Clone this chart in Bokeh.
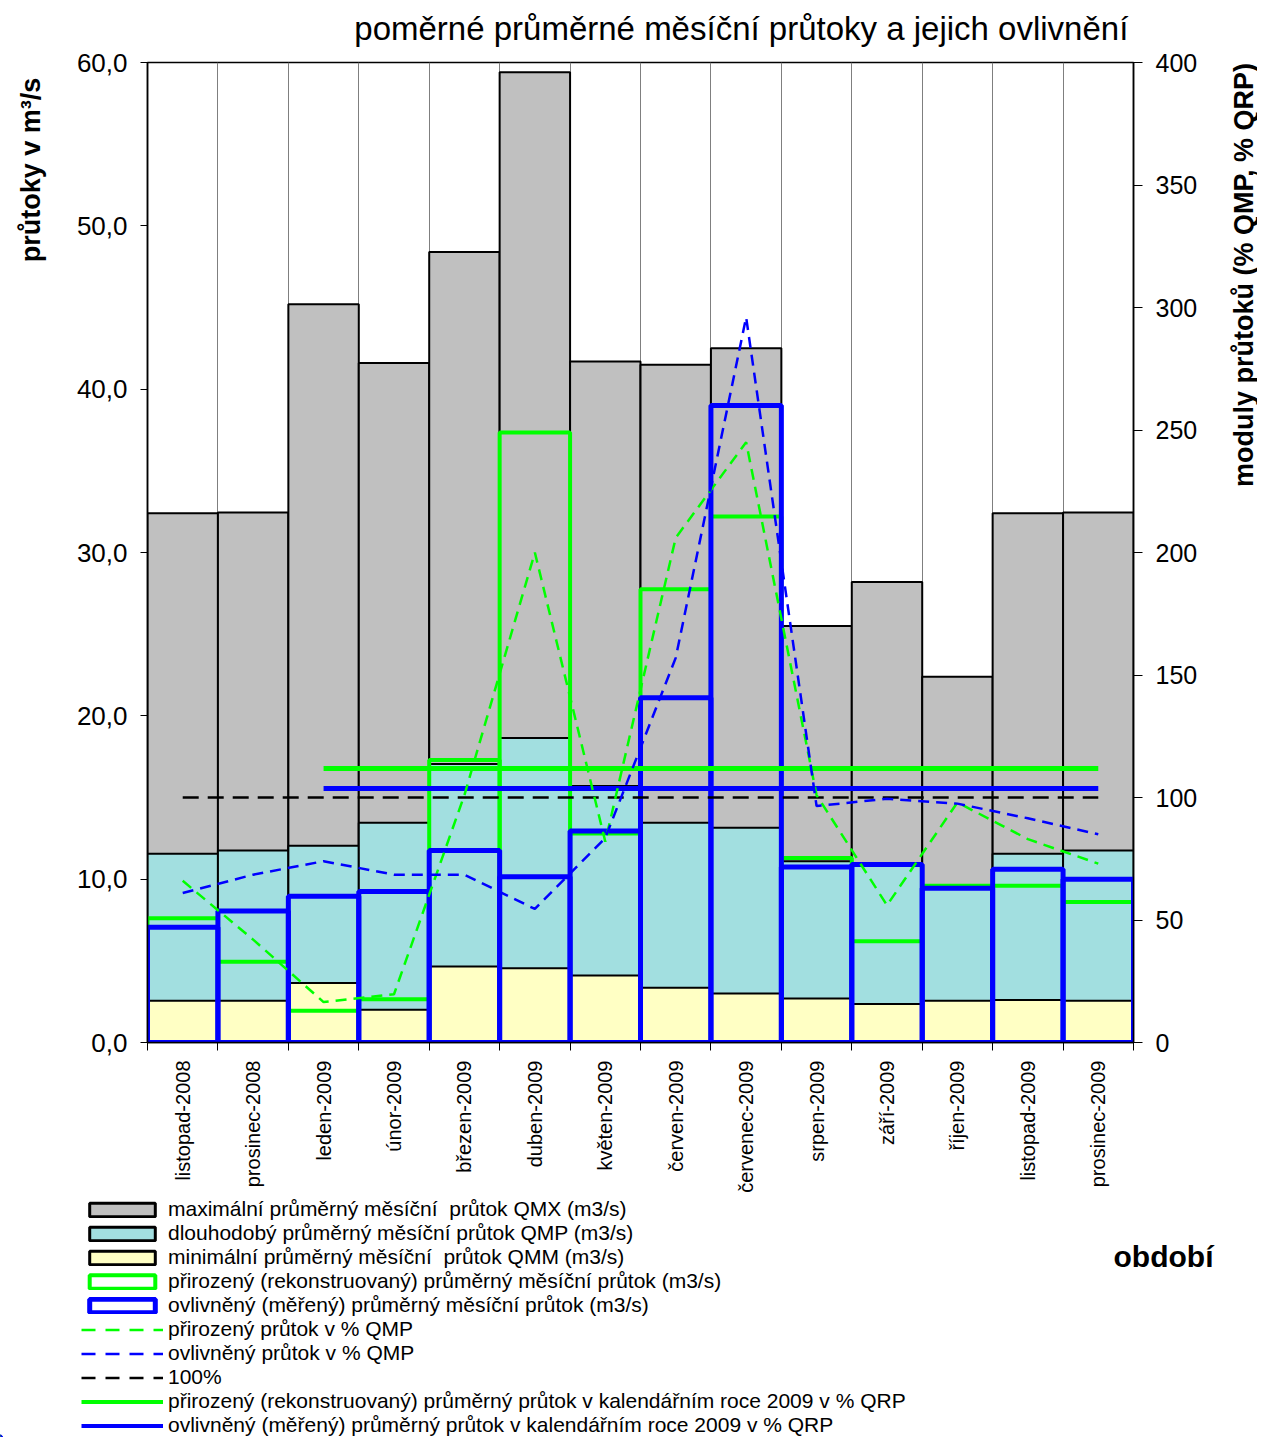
import numpy as np
from math import pi
from bokeh.plotting import figure
from bokeh.layouts import column, row
from bokeh.models import Range1d, LinearAxis, FixedTicker, Legend, LegendItem, Label
from bokeh.embed import file_html
from bokeh.resources import INLINE

# ---------------- data ----------------
mesice = ["listopad-2008", "prosinec-2008", "leden-2009", "únor-2009", "březen-2009",
          "duben-2009", "květen-2009", "červen-2009", "červenec-2009", "srpen-2009",
          "září-2009", "říjen-2009", "listopad-2009", "prosinec-2009"]

qmx = [32.4, 32.45, 45.2, 41.6, 48.4, 59.4, 41.7, 41.5, 42.5, 25.5, 28.2, 22.4, 32.4, 32.45]
qmp = [11.55, 11.75, 12.05, 13.45, 17.05, 18.65, 15.7, 13.45, 13.15, 11.1, 10.9, 9.65, 11.55, 11.75]
qmm = [2.55, 2.55, 3.65, 2.0, 4.65, 4.55, 4.1, 3.35, 3.0, 2.7, 2.35, 2.55, 2.6, 2.55]

prirozeny = [7.6, 4.95, 1.95, 2.65, 17.3, 37.35, 12.8, 27.75, 32.2, 11.3, 6.2, 9.6, 9.6, 8.6]
ovlivneny = [7.05, 8.05, 8.95, 9.25, 11.75, 10.15, 12.95, 21.1, 39.0, 10.75, 10.9, 9.45, 10.6, 10.0]

prirozeny_pct = [66, 42, 16.5, 19.7, 101, 200, 82, 206, 245, 101, 56, 98, 83, 73]
ovlivneny_pct = [61, 68.5, 74, 68.5, 68.5, 54.5, 83.5, 157, 296, 96.5, 99.5, 97.5, 91.5, 85]

sto_procent = [100, 100, 100, 100, 100, 100, 100, 100, 100, 100, 100, 100, 100, 100]
rok2009_prirozeny = [111.8, 111.8, 111.8, 111.8, 111.8, 111.8, 111.8, 111.8, 111.8, 111.8, 111.8, 111.8]
rok2009_ovlivneny = [103.7, 103.7, 103.7, 103.7, 103.7, 103.7, 103.7, 103.7, 103.7, 103.7, 103.7, 103.7]

left_ticks = [0, 10, 20, 30, 40, 50, 60]
left_labels = ["0,0", "10,0", "20,0", "30,0", "40,0", "50,0", "60,0"]
right_ticks = [0, 50, 100, 150, 200, 250, 300, 350, 400]

nazev = "poměrné průměrné měsíční  průtoky a jejich  ovlivnění"
osa_vlevo = "průtoky v m³/s"
osa_vpravo = "moduly průtoků (% QMP, % QRP)"
osa_x = "období"
legenda = ["maximální průměrný měsíční  průtok QMX (m3/s)",
           "dlouhodobý průměrný měsíční průtok QMP (m3/s)",
           "minimální průměrný měsíční  průtok QMM (m3/s)",
           "přirozený (rekonstruovaný) průměrný měsíční průtok (m3/s)",
           "ovlivněný (měřený) průměrný měsíční průtok (m3/s)",
           "přirozený průtok v % QMP",
           "ovlivněný průtok v % QMP",
           "100%",
           "přirozený (rekonstruovaný) průměrný průtok v kalendářním roce 2009 v % QRP",
           "ovlivněný (měřený) průměrný průtok v kalendářním roce 2009 v % QRP"]

# ---------------- styles / layout ----------------
FONT = "Liberation Sans"
GRAY, CYAN, YELLOW = "#C0C0C0", "#A2DFE0", "#FFFFC4"
GREEN, BLUE = "#00FF00", "#0000FF"

W_TOTAL, H_TOTAL = 1257, 1437
H_TOP, H_MID = 48, 1148
H_BOT = H_TOTAL - H_TOP - H_MID
W_LEFT, W_RIGHT = 60, 32
W_MAIN = W_TOTAL - W_LEFT - W_RIGHT
# plot frame in page pixels: x 147..1133, y 62..1042
FR_L, FR_R, FR_T, FR_B = 147, 1133, 62, 1042

n = len(mesice)
centers = [i + 0.5 for i in range(n)]
bounds = [float(i) for i in range(n + 1)]
centers2009 = centers[2:]


def strip(w, h):
    f = figure(width=w, height=h, x_range=Range1d(0, w), y_range=Range1d(0, h),
               output_backend="svg", toolbar_location=None, min_border=0, title=None,
               x_axis_location=None, y_axis_location=None)
    f.outline_line_color = None
    f.grid.grid_line_color = None
    f.background_fill_color = "white"
    f.border_fill_color = "white"
    return f


# ---------- main plot ----------
p = figure(width=W_MAIN, height=H_MID, x_range=Range1d(0, n), y_range=Range1d(0, 60),
           output_backend="svg", toolbar_location=None, title=None,
           min_border_left=FR_L - W_LEFT, min_border_right=W_LEFT + W_MAIN - FR_R,
           min_border_top=FR_T - H_TOP, min_border_bottom=H_TOP + H_MID - FR_B)
p.extra_y_ranges = {"pct": Range1d(0, 400)}
p.background_fill_color = "white"
p.border_fill_color = "white"
p.outline_line_color = "black"
p.outline_line_width = 1.5

# bars
p.vbar(x=centers, width=1, top=qmx, bottom=0, fill_color=GRAY, line_color="black", line_width=2)
p.vbar(x=centers, width=1, top=qmp, bottom=0, fill_color=CYAN, line_color="black", line_width=2)
p.vbar(x=centers, width=1, top=qmm, bottom=0, fill_color=YELLOW, line_color="black", line_width=2)
p.vbar(x=centers, width=1, top=prirozeny, bottom=0, fill_color=None, line_color=GREEN, line_width=4)
p.vbar(x=centers, width=1, top=ovlivneny, bottom=0, fill_color=None, line_color=BLUE, line_width=5)

# lines on right axis
p.line(centers, sto_procent, y_range_name="pct", line_color="black", line_width=2.5, line_dash="16 9")
p.line(centers2009, rok2009_prirozeny, y_range_name="pct", line_color=GREEN, line_width=5)
p.line(centers2009, rok2009_ovlivneny, y_range_name="pct", line_color=BLUE, line_width=5)
p.line(centers, prirozeny_pct, y_range_name="pct", line_color=GREEN, line_width=2.5, line_dash="11 7")
p.line(centers, ovlivneny_pct, y_range_name="pct", line_color=BLUE, line_width=2.5, line_dash="11 7")

# grid
p.ygrid.grid_line_color = None
p.xgrid.ticker = FixedTicker(ticks=bounds)
p.xgrid.grid_line_color = "#7F7F7F"
p.xgrid.grid_line_width = 1

# left axis
ya = p.yaxis[0]
ya.ticker = FixedTicker(ticks=left_ticks)
ya.major_label_overrides = {t: l for t, l in zip(left_ticks, left_labels)}
ya.major_label_text_font = FONT
ya.major_label_text_font_size = "26px"
ya.major_label_text_color = "black"
ya.axis_line_color = "black"
ya.axis_line_width = 1.5
ya.major_tick_line_color = "black"
ya.major_tick_out = 7
ya.major_tick_in = 0
ya.minor_tick_line_color = None
ya.major_label_standoff = 13

# right axis
ra = LinearAxis(y_range_name="pct", ticker=FixedTicker(ticks=right_ticks))
ra.major_label_text_font = FONT
ra.major_label_text_font_size = "25px"
ra.major_label_text_color = "black"
ra.axis_line_color = "black"
ra.axis_line_width = 1.5
ra.major_tick_out = 9
ra.major_tick_in = 0
ra.minor_tick_line_color = None
ra.major_label_standoff = 13
p.add_layout(ra, "right")

# bottom axis
xa = p.xaxis[0]
xa.ticker = FixedTicker(ticks=centers, minor_ticks=bounds)
xa.major_label_overrides = {c: m for c, m in zip(centers, mesice)}
xa.major_label_orientation = pi / 2
xa.major_label_text_font = FONT
xa.major_label_text_font_size = "20px"
xa.major_label_text_color = "black"
xa.major_tick_out = 0
xa.major_tick_in = 0
xa.minor_tick_out = 8
xa.minor_tick_in = 0
xa.minor_tick_line_color = "black"
xa.axis_line_color = "black"
xa.axis_line_width = 1.5
xa.major_label_standoff = 10

# ---------- top strip: title ----------
t = strip(W_TOTAL, H_TOP)
t.add_layout(Label(x=750, y=H_TOP - 28, text=nazev, text_font=FONT, text_font_size="33px",
                   text_align="center", text_baseline="middle", text_color="black"))

# ---------- left strip: left axis title ----------
l = strip(W_LEFT, H_MID)
l.add_layout(Label(x=30, y=H_MID - (174 - H_TOP), text=osa_vlevo, angle=pi / 2,
                   text_font=FONT, text_font_size="27px", text_font_style="bold",
                   text_align="center", text_baseline="middle", text_color="black"))

# ---------- right strip: right axis title ----------
r = strip(W_RIGHT, H_MID)
r.add_layout(Label(x=18, y=H_MID - (297 - H_TOP), text=osa_vpravo, angle=pi / 2,
                   text_font=FONT, text_font_size="27px", text_font_style="bold",
                   text_align="center", text_baseline="middle", text_color="black"))

# ---------- bottom strip: legend + x title ----------
b = strip(W_TOTAL, H_BOT)
# legend-only renderers: one point each, outside the visible range
off = dict(x=[-1000], top=[1])
offl = dict(x=[-1000, -999], y=[1, 1])
lr = [
    b.vbar(width=1, bottom=0, fill_color=GRAY, line_color="black", line_width=3, **off),
    b.vbar(width=1, bottom=0, fill_color=CYAN, line_color="black", line_width=3, **off),
    b.vbar(width=1, bottom=0, fill_color=YELLOW, line_color="black", line_width=3, **off),
    b.vbar(width=1, bottom=0, fill_color="white", line_color=GREEN, line_width=4, **off),
    b.vbar(width=1, bottom=0, fill_color="white", line_color=BLUE, line_width=5, **off),
    b.line(line_color=GREEN, line_width=2.5, line_dash="14 10", **offl),
    b.line(line_color=BLUE, line_width=2.5, line_dash="14 10", **offl),
    b.line(line_color="black", line_width=2.5, line_dash="14 10", **offl),
    b.line(line_color=GREEN, line_width=4, **offl),
    b.line(line_color=BLUE, line_width=4, **offl),
]
LEG_FONT = 21
ROW_H = round(LEG_FONT * 1.17)
for k, (tx, rr) in enumerate(zip(legenda, lr)):
    row_center_page = 1208 + 24 * k
    y_center = H_TOTAL - row_center_page
    lg = Legend(items=[LegendItem(label=tx, renderers=[rr])],
                location=(81, int(round(y_center - ROW_H / 2))), orientation="vertical",
                glyph_width=82, glyph_height=17, label_height=20, spacing=0,
                label_standoff=5, padding=0, margin=0,
                label_text_font=FONT, label_text_font_size=f"{LEG_FONT}px",
                label_text_color="black",
                border_line_color=None, background_fill_alpha=0)
    b.add_layout(lg, "center")
b.add_layout(Label(x=1163, y=H_TOTAL - 1256, text=osa_x,
                   text_font=FONT, text_font_size="30px", text_font_style="bold",
                   text_align="center", text_baseline="middle", text_color="black"))

layout = column(t, row(l, p, r), b)
open("out.html", "w").write(file_html(layout, INLINE))
